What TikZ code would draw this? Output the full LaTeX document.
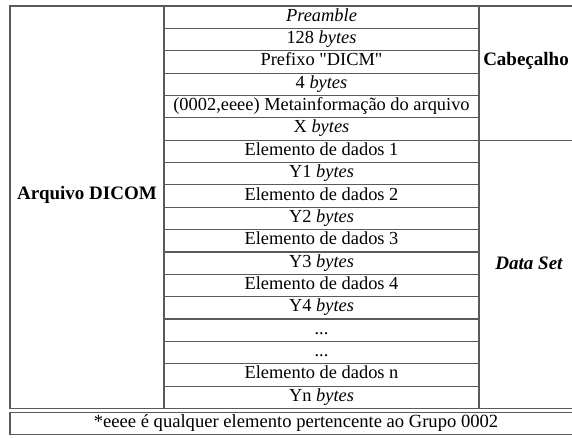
\documentclass[tikz,border=0pt]{standalone}
\usepackage{fontspec}
\setmainfont{Liberation Serif}
\newfontfamily\plainserif{Liberation Serif}
\begin{document}
\begin{tikzpicture}[x=1pt,y=-1pt,
  gridline/.style={draw=linegray, line width=1.1pt},
  celltext/.style={inner sep=0pt, font=\fontsize{18.4}{20}\selectfont, text=black, anchor=center},
  foottext/.style={inner sep=0pt, font=\fontsize{18.6}{20}\selectfont, text=black, anchor=center},
  labeltext/.style={inner sep=0pt, font=\fontsize{19}{21}\selectfont\bfseries, text=black, anchor=center}]
\definecolor{linegray}{HTML}{5A5A5A}
\useasboundingbox (0,0) rectangle (572,437);
\clip (0,0) rectangle (572,437);
\fill[white] (0,0) rectangle (572,437);
% outer frame and column lines
\coordinate (tl) at (10,6);
\coordinate (br) at (590,408.5);
\draw[gridline] (tl) rectangle (br);
\coordinate (m1) at (164,6);
\coordinate (m2) at (164,408.5);
\draw[gridline] (m1) -- (m2);
\coordinate (r1) at (479,6);
\coordinate (r2) at (479,408.5);
\draw[gridline] (r1) -- (r2);
% row lines in the middle column
\foreach \i in {1,...,17} {
  \draw[gridline] (164,6+\i*22.36) -- (479,6+\i*22.36);
}
% header / data set separator
\coordinate (s1) at (479,140.2);
\coordinate (s2) at (590,140.2);
\draw[gridline] (s1) -- (s2);
% cell texts (row centre = 6 + (i-0.5)*22.36)
\node[celltext] (c1)  at (321.5,17.18)  {\itshape Preamble\strut};
\node[celltext] (c2)  at (321.5,39.54)  {128 \textit{bytes}\strut};
\node[celltext] (c3)  at (321.5,61.90)  {\plainserif Prefixo "DICM"\strut};
\node[celltext] (c4)  at (321.5,84.26)  {4 \textit{bytes}\strut};
\node[celltext] (c5)  at (321.5,106.62) {(0002,eeee) Metainformação do arquivo\strut};
\node[celltext] (c6)  at (321.5,128.98) {X \textit{bytes}\strut};
\node[celltext] (c7)  at (321.5,151.34) {Elemento de dados 1\strut};
\node[celltext] (c8)  at (321.5,173.70) {Y1 \textit{bytes}\strut};
\node[celltext] (c9)  at (321.5,196.06) {Elemento de dados 2\strut};
\node[celltext] (c10) at (321.5,218.42) {Y2 \textit{bytes}\strut};
\node[celltext] (c11) at (321.5,240.78) {Elemento de dados 3\strut};
\node[celltext] (c12) at (321.5,263.14) {Y3 \textit{bytes}\strut};
\node[celltext] (c13) at (321.5,285.50) {Elemento de dados 4\strut};
\node[celltext] (c14) at (321.5,307.86) {Y4 \textit{bytes}\strut};
\node[celltext] (c15) at (321.5,330.22) {...\strut};
\node[celltext] (c16) at (321.5,352.58) {...\strut};
\node[celltext] (c17) at (321.5,374.94) {Elemento de dados n\strut};
\node[celltext] (c18) at (321.5,397.30) {Yn \textit{bytes}\strut};
\node[labeltext] (arq) at (87,195) {Arquivo DICOM};
\node[labeltext] (cab) at (526,61) {Cabeçalho};
\node[labeltext] (ds) at (529,263) {\itshape Data Set};
% footnote box
\draw[gridline] (10,412.5) rectangle (590,434.5);
\node[foottext] (foot) at (296,423.5) {*eeee é qualquer elemento pertencente ao Grupo 0002\strut};
\end{tikzpicture}
\end{document}
